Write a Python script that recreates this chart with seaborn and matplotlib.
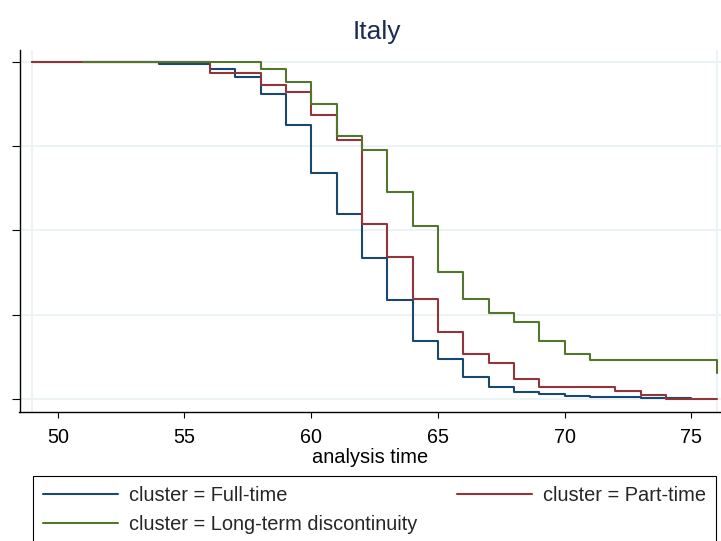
import matplotlib
matplotlib.use("Agg")
import matplotlib.pyplot as plt
from matplotlib.lines import Line2D
import seaborn as sns
import pandas as pd

# ---- data (Kaplan-Meier survival estimates) ----
ft_time = [49, 54, 56, 57, 58, 59, 60, 61, 62, 63, 64, 65, 66, 67, 68, 69, 70, 71, 72, 73, 74, 75]
ft_surv = [1.0, 0.994, 0.979, 0.956, 0.904, 0.812, 0.670, 0.548, 0.418, 0.294, 0.172, 0.120,
           0.066, 0.035, 0.021, 0.015, 0.010, 0.006, 0.005, 0.004, 0.003, 0.003]

pt_time = [49, 56, 58, 59, 60, 61, 62, 63, 64, 65, 66, 67, 68, 69, 72, 73, 74, 76]
pt_surv = [1.0, 0.967, 0.933, 0.910, 0.842, 0.768, 0.519, 0.421, 0.297, 0.198, 0.133, 0.106,
           0.058, 0.036, 0.023, 0.012, 0.0, 0.0]

lt_time = [51, 58, 59, 60, 61, 62, 63, 64, 65, 66, 67, 68, 69, 70, 71, 76]
lt_surv = [1.0, 0.980, 0.940, 0.874, 0.780, 0.739, 0.615, 0.513, 0.376, 0.297, 0.255, 0.227,
           0.171, 0.133, 0.115, 0.078]

labels = ["cluster = Full-time", "cluster = Part-time", "cluster = Long-term discontinuity"]
colors = ["#1a476f", "#90353b", "#55752f"]
x_ticks = [50, 55, 60, 65, 70, 75]
y_ticks = [0, 0.25, 0.5, 0.75, 1.0]
title = "Italy"
x_label = "analysis time"

df = pd.concat([
    pd.DataFrame({"time": ft_time, "surv": ft_surv, "cluster": labels[0]}),
    pd.DataFrame({"time": pt_time, "surv": pt_surv, "cluster": labels[1]}),
    pd.DataFrame({"time": lt_time, "surv": lt_surv, "cluster": labels[2]}),
], ignore_index=True)

sns.set_theme(style="white")
plt.rcParams["font.family"] = ["Liberation Sans", "DejaVu Sans"]

W, H = 721, 541
fig = plt.figure(figsize=(W / 100, H / 100), dpi=100)
fig.patch.set_facecolor("white")
ax = fig.add_axes([19.5 / W, 1 - 411.7 / H, 1 - 19.5 / W, (411.7 - 50) / H])
ax.set_facecolor("white")

grid_c = "#eaf2f3"
for yv in y_ticks:
    ax.axhline(yv, color=grid_c, lw=1.3, zorder=0)
for xv in [49, 76]:
    ax.axvline(xv, color=grid_c, lw=1.3, zorder=0)

sns.lineplot(data=df, x="time", y="surv", hue="cluster", hue_order=labels,
             palette=colors, drawstyle="steps-post", estimator=None, sort=False,
             linewidth=1.5, legend=False, ax=ax)

ax.set_xlim(48.49, 76.17)
ax.set_ylim(-0.0377, 1.0356)
ax.set_xticks(x_ticks)
ax.set_xticklabels([str(v) for v in x_ticks])
ax.set_yticks(y_ticks)
ax.set_yticklabels([])
ax.tick_params(axis="x", direction="out", length=4.5, width=0.8, color="black",
               labelsize=14.2, pad=7.2, labelcolor="black", bottom=True)
ax.tick_params(axis="y", direction="out", length=6, width=0.8, color="black",
               left=True)
ax.set_xlabel(x_label, fontsize=14.4, color="black", labelpad=0.6)
ax.set_ylabel("")
for s in ["top", "right"]:
    ax.spines[s].set_visible(False)
for s in ["left", "bottom"]:
    ax.spines[s].set_color("black")
    ax.spines[s].set_linewidth(1.0)

fig.text(376.7 / W, 1 - 31.5 / H, title, ha="center", va="center",
         fontsize=19, color="#1c2b52")

handles = [Line2D([0], [0], color=colors[i], lw=1.5) for i in range(3)]
order = [0, 2, 1]
leg = fig.legend([handles[i] for i in order], [labels[i] for i in order],
                 ncol=2, mode="expand", loc="upper left",
                 bbox_to_anchor=(33.3 / W, 1 - 476.3 / H, (716 - 33.3) / W, 0.0),
                 fontsize=14.4, frameon=True, fancybox=False, framealpha=1,
                 edgecolor="black", borderpad=0.5, handlelength=3.75,
                 handletextpad=0.55, labelspacing=0.5, borderaxespad=0)
leg.get_frame().set_linewidth(0.8)

fig.savefig("out.png", dpi=100, facecolor="white")
